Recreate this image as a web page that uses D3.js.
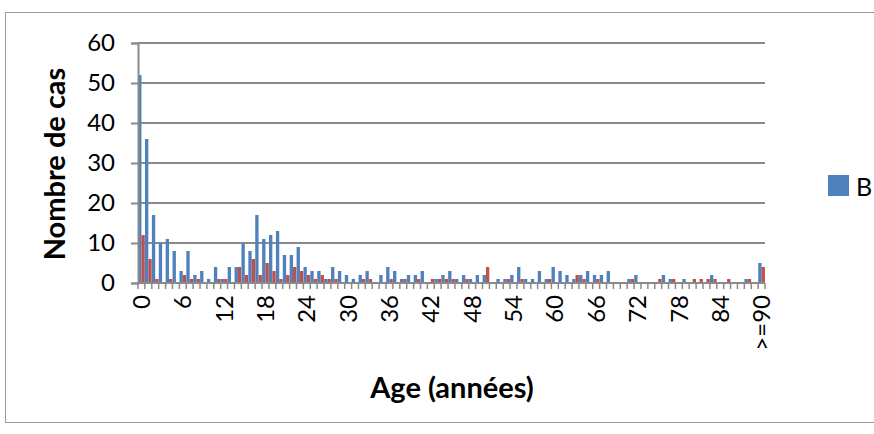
<!DOCTYPE html>
<html>
<head>
<meta charset="utf-8">
<script src="https://cdn.jsdelivr.net/npm/d3@7"></script>
<style>
  html, body { margin: 0; padding: 0; background: #ffffff; }
  svg { display: block; }
  text { font-family: Lato, "Open Sans", sans-serif; fill: #000; }
</style>
</head>
<body>
<svg id="chart" width="874" height="434"></svg>
<script>
// Age categories (years), last class groups 90 and over
const ages = [
  "0","1","2","3","4","5","6","7","8","9",
  "10","11","12","13","14","15","16","17","18","19",
  "20","21","22","23","24","25","26","27","28","29",
  "30","31","32","33","34","35","36","37","38","39",
  "40","41","42","43","44","45","46","47","48","49",
  "50","51","52","53","54","55","56","57","58","59",
  "60","61","62","63","64","65","66","67","68","69",
  "70","71","72","73","74","75","76","77","78","79",
  "80","81","82","83","84","85","86","87","88","89",
  ">=90"
];

// Number of cases per age, first series (blue)
const casesBlue = [
  52,36,17,10,11,8,3,8,2,3,
  1,4,1,4,4,10,8,17,11,12,
  13,7,7,9,4,3,3,1,4,3,
  2,1,2,3,0,2,4,3,1,2,
  2,3,0,1,2,3,1,2,1,2,
  2,0,1,1,2,4,1,1,3,1,
  4,3,2,1,2,3,2,2,3,0,
  0,1,2,0,0,0,2,1,0,1,
  0,0,0,2,0,0,0,0,1,0,
  5
];

// Number of cases per age, second series (red)
const casesRed = [
  12,6,1,0,1,0,2,1,1,0,
  0,1,1,0,4,2,6,2,5,3,
  1,2,4,3,2,1,2,1,1,0,
  0,0,1,1,0,0,1,0,1,0,
  1,0,1,1,1,1,0,1,0,0,
  4,0,0,1,0,1,0,0,0,1,
  0,0,0,2,1,0,1,0,0,0,
  0,1,0,0,0,1,0,1,0,0,
  1,1,1,1,0,1,0,0,1,0,
  4
];

// Category labels printed under the axis
const ageTickLabels = ["0","6","12","18","24","30","36","42","48","54","60","66","72","78","84",">=90"];
const yTickValues = [0,10,20,30,40,50,60];
const legendLabels = ["B"];

const seriesNames = ["blue","red"];
const seriesColors = { blue: "#4F81BD", red: "#C0504D" };
const rows = ages.map((a, i) => ({ age: a, blue: casesBlue[i], red: casesRed[i] }));

const svg = d3.select("#chart");
const plot = { left: 138, right: 765, top: 43, bottom: 283 };
const gridColor = "#8a8a8a";

// Outer chart frame (runs past the right edge)
svg.append("rect")
  .attr("x", 5.5).attr("y", 12.5)
  .attr("width", 1000).attr("height", 410)
  .attr("fill", "none").attr("stroke", "#9a9a9a").attr("stroke-width", 1);

const x = d3.scaleBand().domain(ages).range([plot.left, plot.right]).padding(0);
const xSub = d3.scaleBand().domain(seriesNames).range([0.1, x.bandwidth() - 0.1]).padding(0);
const y = d3.scaleLinear().domain([0, 60]).range([plot.bottom, plot.top]);

// Horizontal gridlines
svg.append("g")
  .selectAll("line")
  .data(yTickValues.filter(v => v > 0))
  .join("line")
  .attr("x1", plot.left).attr("x2", plot.right)
  .attr("y1", d => y(d)).attr("y2", d => y(d))
  .attr("stroke", gridColor).attr("stroke-width", 2);

// Bars
const groups = svg.append("g")
  .selectAll("g")
  .data(rows)
  .join("g")
  .attr("transform", d => `translate(${x(d.age)},0)`);

groups.selectAll("rect")
  .data(d => seriesNames.map(k => ({ key: k, value: d[k] })))
  .join("rect")
  .attr("x", d => xSub(d.key))
  .attr("width", xSub.bandwidth())
  .attr("y", d => y(d.value))
  .attr("height", d => y(0) - y(d.value))
  .attr("fill", d => seriesColors[d.key]);

// Y axis
const yAxis = svg.append("g")
  .attr("transform", `translate(${plot.left},0)`)
  .call(d3.axisLeft(y).tickValues(yTickValues).tickSize(7).tickPadding(16));
yAxis.select(".domain").attr("stroke", gridColor).attr("stroke-width", 2);
yAxis.selectAll(".tick line").attr("stroke", gridColor).attr("stroke-width", 2);
yAxis.selectAll(".tick text")
  .attr("font-family", "Lato, sans-serif").attr("font-size", 24).attr("fill", "#000");

// X axis line with a tick mark between every category
const xAxisG = svg.append("g");
xAxisG.append("line")
  .attr("x1", plot.left).attr("x2", plot.right)
  .attr("y1", y(0)).attr("y2", y(0))
  .attr("stroke", gridColor).attr("stroke-width", 2);
xAxisG.selectAll("line.cat-tick")
  .data(ages.map(a => x(a)).concat([plot.right]))
  .join("line")
  .attr("class", "cat-tick")
  .attr("x1", d => d).attr("x2", d => d)
  .attr("y1", y(0)).attr("y2", y(0) + 6)
  .attr("stroke", gridColor).attr("stroke-width", 1.5);

// Rotated category labels
const xLabels = svg.append("g")
  .attr("transform", `translate(0,${plot.bottom})`)
  .call(d3.axisBottom(x).tickValues(ageTickLabels).tickSize(0));
xLabels.select(".domain").remove();
xLabels.selectAll(".tick text")
  .attr("font-family", "Lato, sans-serif").attr("font-size", 24).attr("fill", "#000")
  .attr("transform", "rotate(-90)")
  .attr("x", -12).attr("y", 0).attr("dy", "0.36em")
  .style("text-anchor", "end");

// Axis titles
svg.append("text")
  .attr("transform", "translate(55,164) rotate(-90)")
  .attr("text-anchor", "middle").attr("dy", "0.35em")
  .attr("font-size", 29).attr("font-weight", "bold")
  .text("Nombre de cas");

svg.append("text")
  .attr("x", 452).attr("y", 398)
  .attr("text-anchor", "middle")
  .attr("font-size", 29).attr("font-weight", "bold")
  .text("Age (années)");

// Legend, placed at the right edge of the chart
const legend = svg.append("g").attr("transform", "translate(828,175)");
legend.append("rect").attr("width", 21).attr("height", 21).attr("fill", seriesColors.blue);
legend.append("text").attr("x", 28).attr("y", 21)
  .attr("font-size", 25).text(legendLabels[0]);
</script>
</body>
</html>
